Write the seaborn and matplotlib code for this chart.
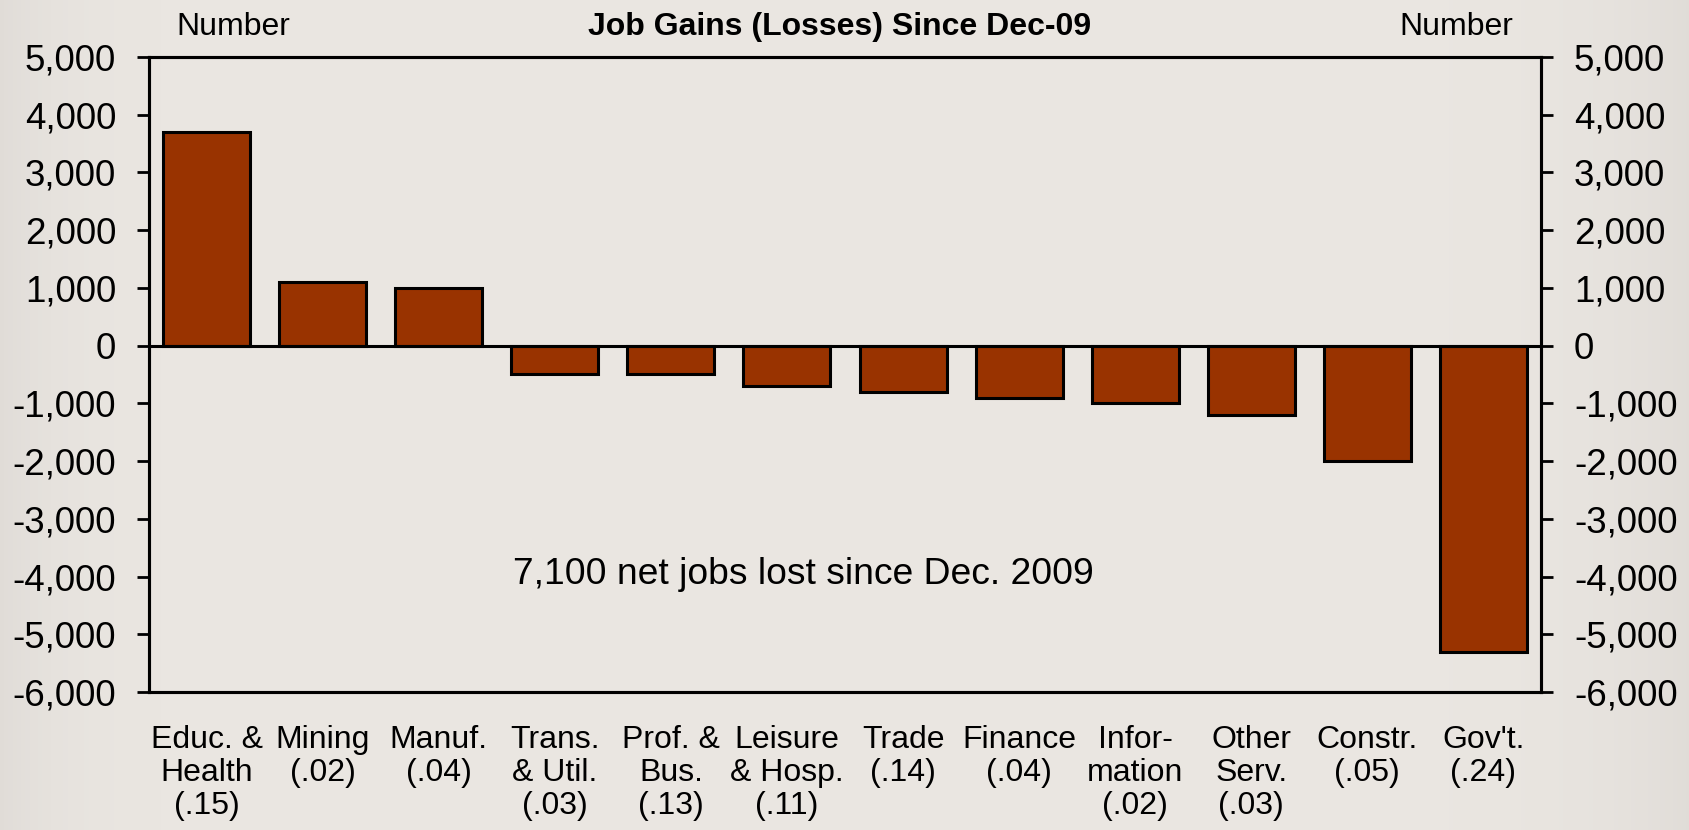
import matplotlib
matplotlib.use("Agg")
import matplotlib.pyplot as plt
import seaborn as sns
import pandas as pd
import numpy as np
from matplotlib.ticker import FuncFormatter

categories = ["Educ. &\nHealth\n(.15)", "Mining\n(.02)", "Manuf.\n(.04)", "Trans.\n& Util.\n(.03)",
              "Prof. &\nBus.\n(.13)", "Leisure\n& Hosp.\n(.11)", "Trade\n(.14)", "Finance\n(.04)",
              "Infor-\nmation\n(.02)", "Other\nServ.\n(.03)", "Constr.\n(.05)", "Gov't.\n(.24)"]
values = [3700, 1100, 1000, -500, -500, -700, -800, -900, -1000, -1200, -2000, -5300]
y_ticks = [5000, 4000, 3000, 2000, 1000, 0, -1000, -2000, -3000, -4000, -5000, -6000]

title = "Job Gains (Losses) Since Dec-09"
note = "7,100 net jobs lost since Dec. 2009"

sns.set_style("white")
plt.rcParams["font.family"] = ["Liberation Sans", "DejaVu Sans"]
plt.rcParams["text.color"] = "black"
plt.rcParams["xtick.color"] = "black"
plt.rcParams["ytick.color"] = "black"
plt.rcParams["xtick.labelcolor"] = "black"
plt.rcParams["ytick.labelcolor"] = "black"

bg = "#EAE6E1"
fig = plt.figure(figsize=(16.9, 8.3), dpi=100, facecolor=bg)

# subtle background gradient (decorative)
bgax = fig.add_axes([0, 0, 1, 1], zorder=-10)
xx = np.linspace(0, 1, 400)
prof = 1 - 0.045 * (np.exp(-xx / 0.04) + np.exp(-(1 - xx) / 0.06))
base = np.array([0xEB, 0xE7, 0xE2]) / 255.0
grad = np.clip(prof[None, :, None] * base[None, None, :], 0, 1)
bgax.imshow(grad, aspect="auto", extent=[0, 1, 0, 1])
bgax.axis("off")

ax = fig.add_axes([0.088, 0.1663, 0.824, 0.765])
ax.set_facecolor("none")

df = pd.DataFrame({"cat": categories, "val": values})
sns.barplot(data=df, x="cat", y="val", order=categories, color="#993300",
            saturation=1, width=0.75, edgecolor="black", linewidth=2.2, ax=ax)

ax.set_ylim(-6000, 5000)
ax.set_xlim(-0.5, len(categories) - 0.5)
ax.set_yticks(y_ticks)
fmt = FuncFormatter(lambda v, p: f"{int(v):,}")
ax.yaxis.set_major_formatter(fmt)
ax.axhline(0, color="black", linewidth=2.2, zorder=1)

ax.set_xlabel("")
ax.set_ylabel("")
ax.tick_params(axis="x", length=0, labelsize=23, pad=24, labelcolor="black")
for lab in ax.get_xticklabels():
    lab.set_linespacing(1.12)
ax.tick_params(axis="y", direction="out", length=8.5, width=2, labelsize=26.5, pad=15, left=True,
               color="black", labelcolor="black")
for s in ax.spines.values():
    s.set_linewidth(2.2)
    s.set_color("black")

ax2 = ax.twinx()
ax2.set_ylim(ax.get_ylim())
ax2.set_yticks(y_ticks)
ax2.yaxis.set_major_formatter(fmt)
ax2.tick_params(axis="y", direction="out", length=8.5, width=2, labelsize=26.5, pad=15,
                color="black", labelcolor="black")
for s in ax2.spines.values():
    s.set_linewidth(2.2)
    s.set_color("black")

fig.text(0.497, 0.967, title, ha="center", va="center", fontsize=23, fontweight="bold", color="black")
fig.text(0.138, 0.967, "Number", ha="center", va="center", fontsize=23, color="black")
fig.text(0.8615, 0.967, "Number", ha="center", va="center", fontsize=23, color="black")
ax.text(0.47, 0.185, note, transform=ax.transAxes, ha="center", va="center", fontsize=26.8, color="black")

fig.savefig("out.png", dpi=100, facecolor=bg)
